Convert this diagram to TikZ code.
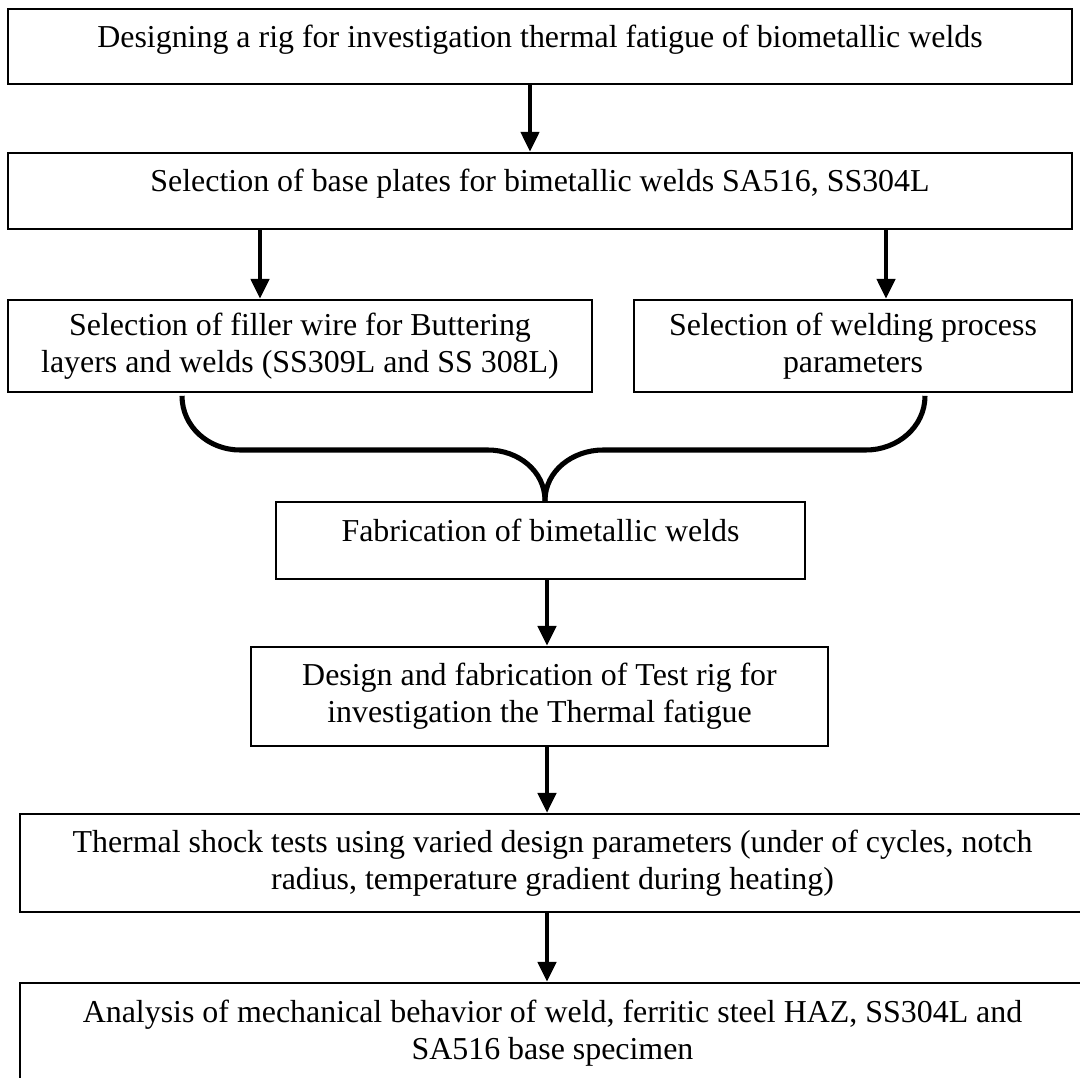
\documentclass[tikz,border=0pt]{standalone}
\usepackage{fontspec}
\setmainfont{Liberation Serif}
\usetikzlibrary{arrows.meta}
\tikzset{
	stagebox/.style={draw, line width=0.9pt, align=center, inner sep=0pt, font=\fontsize{12}{13.9}\selectfont},
	oneline/.style={text height=8.2pt, text depth=7.8pt},
	flow/.style={-{Triangle[width=6.8pt,length=7.5pt]}, line width=1.6pt},
	merge/.style={line width=1.9pt},
}

\begin{document}
\begin{tikzpicture}[x=0.376pt, y=-0.376pt]
\useasboundingbox (0,0) rectangle (1080,1078);
\clip (0,0) rectangle (1080,1078);

% columns of the connectors
\coordinate (colA) at (530,0);
\coordinate (colL) at (260,0);
\coordinate (colR) at (886,0);
\coordinate (colM) at (547,0);
\coordinate (braceL) at (182,0);
\coordinate (braceR) at (925,0);
\coordinate (tipx) at (545,0);

\node[stagebox, oneline, minimum width=400.1pt, minimum height=28.2pt] (rig) at (540,46.5) {Designing a rig for investigation thermal fatigue of biometallic welds};

\node[stagebox, oneline, minimum width=400.1pt, minimum height=28.6pt] (plates) at (540,191) {Selection of base plates for bimetallic welds SA516, SS304L};

\node[stagebox, minimum width=219.6pt, minimum height=34.6pt] (filler) at (300,346) {Selection of filler wire for Buttering\\layers and welds (SS309L and SS 308L)};
\node[stagebox, minimum width=164.7pt, minimum height=34.6pt] (process) at (853,346) {Selection of welding process\\parameters};

\node[stagebox, oneline, minimum width=198.9pt, minimum height=29pt] (fab) at (540.5,540.5) {Fabrication of bimetallic welds};

\node[stagebox, minimum width=217pt, minimum height=37.2pt] (testrig) at (539.5,696.5) {Design and fabrication of Test rig for\\investigation the Thermal fatigue};

\node[stagebox, minimum width=400.4pt, minimum height=36.8pt] (shock) at (552.5,863) {Thermal shock tests using varied design parameters (under of cycles, notch\\radius, temperature gradient during heating)};

\node[stagebox, minimum width=400.4pt, minimum height=37.6pt] (analysis) at (552.5,1033) {Analysis of mechanical behavior of weld, ferritic steel HAZ, SS304L and\\SA516 base specimen};

\draw[flow] (rig.south -| colA) -- (plates.north -| colA);
\draw[flow] (plates.south -| colL) -- (filler.north -| colL);
\draw[flow] (plates.south -| colR) -- (process.north -| colR);

% the brace joining both selections
\draw[merge] ([yshift=-1pt]filler.south -| braceL) to[out=-90,in=180] (240,450) -- (488,450) to[out=0,in=90] (fab.north -| tipx);
\draw[merge] (fab.north -| tipx) to[out=90,in=180] (603,450) -- (866,450) to[out=0,in=-90] ([yshift=-1pt]process.south -| braceR);

\draw[flow] (fab.south -| colM) -- (testrig.north -| colM);
\draw[flow] (testrig.south -| colM) -- (shock.north -| colM);
\draw[flow] (shock.south -| colM) -- (analysis.north -| colM);
\end{tikzpicture}
\end{document}
